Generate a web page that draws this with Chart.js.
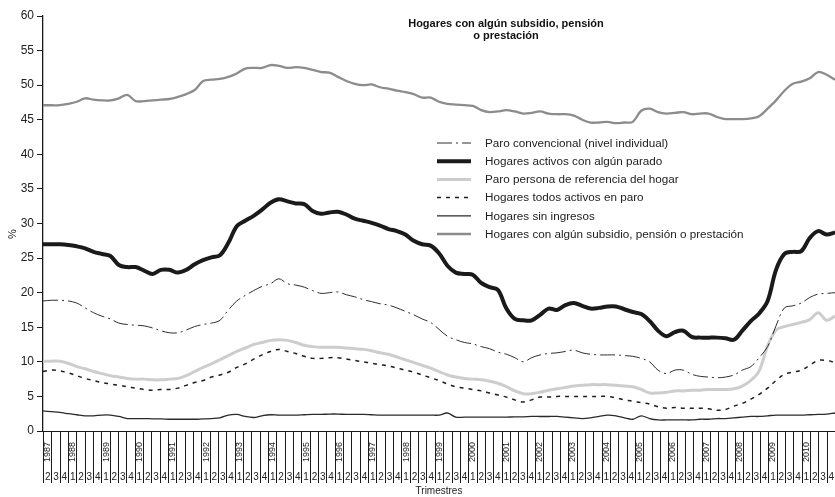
<!DOCTYPE html>
<html>
<head>
<meta charset="utf-8">
<script src="https://cdn.jsdelivr.net/npm/chart.js@4.4.0/dist/chart.umd.min.js"></script>
<style>
html,body{margin:0;padding:0;background:#ffffff;}
#wrap{width:835px;height:497px;position:relative;}
</style>
</head>
<body>
<div id="wrap"><canvas id="c" width="835" height="497"></canvas></div>
<script>
// ---------- DATA ----------
const years = [1987,1988,1989,1990,1991,1992,1993,1994,1995,1996,1997,1998,1999,2000,2001,2002,2003,2004,2005,2006,2007,2008,2009,2010];
const quarterNames = ['1','2','3','4'];
const firstQuarterIndex = 1; // the series starts in 1987, 2nd quarter

const chartTitle = ['Hogares con algún subsidio, pensión', 'o prestación'];
const xTitle = 'Trimestres';
const yTitle = '%';

const seriesNames = [
  'Paro convencional (nivel individual)',
  'Hogares activos con algún parado',
  'Paro persona de referencia del hogar',
  'Hogares todos activos en paro',
  'Hogares sin ingresos',
  'Hogares con algún subsidio, pensión o prestación'
];

const paroConvencional = [
  18.8,18.9,18.9,18.8,18.5,17.8,17.1,16.6,16.2,15.6,
  15.4,15.3,15.2,14.9,14.5,14.2,14.2,14.6,15.1,15.4,
  15.6,16.0,17.5,18.8,19.6,20.3,20.9,21.3,22.0,21.3,
  21.1,20.8,20.3,19.9,20.0,20.1,19.7,19.4,19.0,18.7,
  18.4,18.2,17.8,17.3,16.8,16.2,15.7,14.7,13.7,13.2,
  12.8,12.6,12.2,11.9,11.4,11.1,10.6,10.0,10.6,11.0,
  11.2,11.3,11.5,11.7,11.3,11.1,11.0,11.0,11.0,10.9,
  10.8,10.5,10.0,8.8,8.3,8.8,8.8,8.2,7.9,7.8,
  7.7,7.8,8.1,8.8,9.3,10.6,12.2,15.2,17.8,18.1,
  18.5,19.3,19.8,19.9,20.0
];

const hogaresActivosParado = [
  27.0,27.0,27.0,26.9,26.7,26.4,25.9,25.6,25.3,24.0,
  23.7,23.7,23.2,22.7,23.3,23.3,22.9,23.3,24.1,24.7,
  25.1,25.4,27.2,29.6,30.4,31.1,32.0,33.0,33.5,33.2,
  32.9,32.8,31.8,31.4,31.6,31.7,31.3,30.7,30.4,30.1,
  29.7,29.2,28.9,28.4,27.5,27.0,26.8,25.7,23.9,22.9,
  22.7,22.6,21.4,20.8,20.4,17.7,16.2,16.0,16.0,16.8,
  17.7,17.5,18.2,18.5,18.1,17.7,17.8,18.0,18.0,17.6,
  17.2,16.9,15.9,14.5,13.7,14.3,14.5,13.6,13.5,13.5,
  13.5,13.4,13.2,14.5,15.9,17.0,18.8,23.3,25.6,25.9,
  26.0,27.9,28.9,28.4,28.7
];

const paroPersonaReferencia = [
  10.1,10.1,10.1,9.8,9.3,9.0,8.6,8.3,8.0,7.8,
  7.6,7.5,7.5,7.4,7.4,7.5,7.6,8.0,8.6,9.2,
  9.7,10.3,10.9,11.5,12.0,12.5,12.8,13.1,13.2,13.1,
  12.8,12.4,12.2,12.1,12.1,12.1,12.0,11.9,11.8,11.6,
  11.3,11.1,10.7,10.3,9.9,9.5,9.1,8.6,8.1,7.8,
  7.6,7.5,7.4,7.2,6.9,6.4,5.8,5.4,5.4,5.6,
  5.9,6.1,6.3,6.5,6.6,6.7,6.7,6.7,6.6,6.5,
  6.4,6.0,5.5,5.5,5.6,5.8,5.8,5.9,5.9,6.0,
  6.0,6.0,6.1,6.5,7.3,8.7,12.3,14.6,15.1,15.4,
  15.7,16.1,17.1,16.0,16.6
];

const hogaresTodosParo = [
  8.6,8.8,8.7,8.4,8.0,7.6,7.3,7.0,6.8,6.6,
  6.4,6.2,6.0,5.9,6.0,6.0,6.2,6.6,7.0,7.3,
  7.8,8.1,8.5,9.2,9.7,10.4,11.0,11.5,11.8,11.5,
  11.2,10.8,10.5,10.5,10.6,10.6,10.4,10.2,10.0,9.8,
  9.6,9.4,9.1,8.8,8.5,8.1,7.7,7.3,6.8,6.4,
  6.2,6.0,5.8,5.5,5.2,4.9,4.5,4.2,4.5,4.9,
  4.9,5.0,5.0,5.0,5.0,5.0,5.0,5.0,4.8,4.5,
  4.3,4.1,3.9,3.5,3.3,3.4,3.3,3.3,3.3,3.2,
  3.0,3.1,3.6,4.0,4.6,5.3,6.2,7.3,8.2,8.5,
  8.8,9.5,10.2,10.2,9.9
];

const hogaresSinIngresos = [
  2.9,2.8,2.7,2.5,2.35,2.2,2.2,2.3,2.3,2.1,
  1.8,1.8,1.8,1.75,1.75,1.7,1.7,1.7,1.7,1.75,
  1.8,1.9,2.3,2.4,2.1,1.95,2.2,2.35,2.3,2.3,
  2.3,2.35,2.4,2.4,2.45,2.45,2.4,2.4,2.4,2.35,
  2.3,2.3,2.3,2.3,2.3,2.3,2.3,2.3,2.6,2.0,
  2.0,2.0,2.0,2.0,2.0,2.0,2.05,2.05,2.1,2.1,
  2.1,2.1,2.0,1.9,1.8,1.9,2.1,2.3,2.2,1.9,
  1.7,2.2,1.8,1.6,1.6,1.6,1.6,1.6,1.7,1.7,
  1.8,1.8,1.9,2.0,2.1,2.1,2.2,2.3,2.3,2.3,
  2.3,2.35,2.4,2.45,2.6
];

const hogaresSubsidio = [
  47.1,47.1,47.1,47.3,47.6,48.1,47.9,47.8,47.8,48.1,
  48.6,47.7,47.7,47.8,47.9,48.0,48.3,48.7,49.3,50.6,
  50.8,50.9,51.2,51.7,52.4,52.5,52.5,52.9,52.8,52.5,
  52.6,52.5,52.2,51.9,51.8,51.2,50.6,50.2,50.0,50.1,
  49.7,49.5,49.2,49.0,48.7,48.2,48.2,47.6,47.3,47.2,
  47.1,47.0,46.4,46.1,46.2,46.4,46.2,45.9,46.0,46.2,
  45.9,45.8,45.8,45.6,45.0,44.6,44.6,44.7,44.5,44.6,
  44.7,46.3,46.6,46.1,45.9,46.0,46.1,45.8,45.9,45.9,
  45.4,45.1,45.1,45.1,45.2,45.5,46.6,47.8,49.2,50.2,
  50.5,51.0,51.9,51.5,50.8
];

const yTicks = [0,5,10,15,20,25,30,35,40,45,50,55,60];

// ---------- CATEGORIES ----------
const categories = [];
years.forEach((y, yi) => {
  quarterNames.forEach((q, qi) => {
    if (yi === 0 && qi < firstQuarterIndex) return;
    categories.push({year: String(y), quarter: q, first: qi === 0});
  });
});
const labels = categories.map(c => c.year + '-' + c.quarter);

// ---------- CHART ----------
const FONT = '"Liberation Sans", Arial, sans-serif';
Chart.defaults.font.family = FONT;
Chart.defaults.color = '#222';

const quarterAxisPlugin = {
  id: 'quarterAxis',
  afterDraw(chart) {
    const xs = chart.scales.x;
    const ctx = chart.ctx;
    const L = xs.left, R = xs.right, T = xs.top;
    const n = categories.length;
    const w = (R - L) / n;
    ctx.save();
    ctx.strokeStyle = '#1a1a1a';
    ctx.lineWidth = 1;
    ctx.beginPath();
    for (let k = 0; k <= n; k++) {
      const x = Math.round(L + k * w) + 0.5;
      ctx.moveTo(x, T);
      ctx.lineTo(x, T + 52);
    }
    ctx.stroke();
    ctx.fillStyle = '#222';
    ctx.textAlign = 'center';
    ctx.textBaseline = 'middle';
    ctx.font = '10px ' + FONT;
    categories.forEach((c, i) => {
      const cx = L + (i + 0.5) * w;
      ctx.fillText(c.quarter, cx + 0.5, T + 46);
    });
    ctx.font = '9px ' + FONT;
    categories.forEach((c, i) => {
      if (!(c.first || i === 0)) return;
      const cx = L + (i + 0.5) * w;
      ctx.save();
      ctx.translate(cx + 0.5, T + 21);
      ctx.rotate(-Math.PI / 2);
      ctx.fillText(c.year, 0, 0);
      ctx.restore();
    });
    ctx.restore();
  }
};

const titleLegendPlugin = {
  id: 'titleLegend',
  afterDraw(chart) {
    const ctx = chart.ctx;
    const area = chart.chartArea;
    ctx.save();
    // chart title
    ctx.fillStyle = '#111';
    ctx.textAlign = 'center';
    ctx.textBaseline = 'middle';
    ctx.font = 'bold 11px ' + FONT;
    const tx = area.left + 463;
    ctx.fillText(chartTitle[0], tx, area.top + 8);
    ctx.fillText(chartTitle[1], tx, area.top + 20);
    // y axis title
    ctx.save();
    ctx.font = '11px ' + FONT;
    ctx.fillStyle = '#222';
    ctx.translate(13, area.top + 218);
    ctx.rotate(-Math.PI / 2);
    ctx.fillText(yTitle, 0, 0);
    ctx.restore();
    // legend
    ctx.textAlign = 'left';
    ctx.font = '11.7px ' + FONT;
    chart.data.datasets.forEach((ds, i) => {
      const y = area.top + 127 + i * 18.2;
      const x0 = area.left + 394;
      ctx.save();
      ctx.strokeStyle = ds.borderColor;
      ctx.lineWidth = ds.borderWidth;
      ctx.setLineDash(ds.borderDash || []);
      ctx.beginPath();
      ctx.moveTo(x0, y);
      ctx.lineTo(x0 + 34, y);
      ctx.stroke();
      ctx.restore();
      ctx.fillStyle = '#222';
      ctx.fillText(ds.label, area.left + 442, y + 0.5);
    });
    ctx.restore();
  }
};

new Chart(document.getElementById('c'), {
  type: 'line',
  data: {
    labels: labels,
    datasets: [
      {label: seriesNames[0], data: paroConvencional, borderColor: '#2e2e2e', borderWidth: 1, borderDash: [15,4,2,4], order: 3},
      {label: seriesNames[1], data: hogaresActivosParado, borderColor: '#1a1a1a', borderWidth: 4, order: 1},
      {label: seriesNames[2], data: paroPersonaReferencia, borderColor: '#cdcdcd', borderWidth: 3, order: 4},
      {label: seriesNames[3], data: hogaresTodosParo, borderColor: '#1e1e1e', borderWidth: 1.5, borderDash: [4,5], order: 2},
      {label: seriesNames[4], data: hogaresSinIngresos, borderColor: '#2a2a2a', borderWidth: 1.3, order: 5},
      {label: seriesNames[5], data: hogaresSubsidio, borderColor: '#8c8c8c', borderWidth: 2.3, order: 6}
    ]
  },
  options: {
    responsive: false,
    animation: false,
    devicePixelRatio: 1,
    layout: {padding: {top: 16, right: 0, bottom: 0, left: 0}},
    elements: {
      point: {radius: 0, hoverRadius: 0},
      line: {tension: 0.35, fill: false, borderCapStyle: 'butt', borderJoinStyle: 'round'}
    },
    plugins: {
      legend: {display: false},
      title: {display: false},
      tooltip: {enabled: false}
    },
    scales: {
      x: {
        type: 'category',
        offset: false,
        grid: {display: false},
        border: {display: true, color: '#1a1a1a', width: 1},
        ticks: {display: false},
        title: {display: true, text: xTitle, color: '#222', font: {size: 10}, padding: {top: 0, bottom: 0}},
        afterFit(s) { s.height = 66; }
      },
      y: {
        min: 0,
        max: 60,
        afterBuildTicks(s) { s.ticks = yTicks.map(v => ({value: v})); },
        ticks: {color: '#222', font: {size: 12}, padding: 3},
        grid: {drawOnChartArea: false, tickLength: 6, color: '#1a1a1a', lineWidth: 1},
        border: {display: true, color: '#1a1a1a', width: 1.3},
        title: {display: false},
        afterFit(s) { s.width = 43; }
      }
    }
  },
  plugins: [quarterAxisPlugin, titleLegendPlugin]
});
</script>
</body>
</html>
